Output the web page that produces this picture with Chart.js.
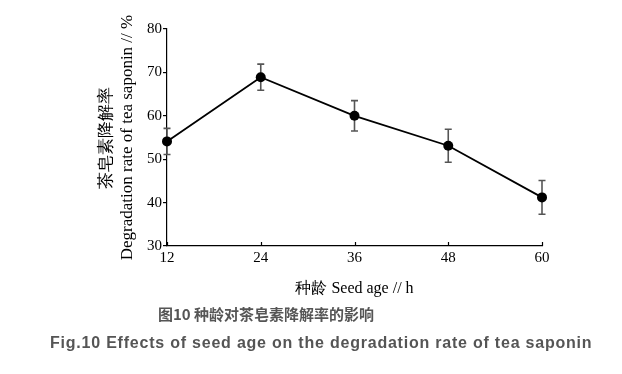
<!DOCTYPE html>
<html>
<head>
<meta charset="utf-8">
<script src="https://cdn.jsdelivr.net/npm/chart.js@4.4.0/dist/chart.umd.min.js"></script>
<style>
    body { margin: 0; background: #fff; }
    #wrap { position: relative; width: 622px; height: 374px; }
    .caption { position: absolute; color: #555; font-weight: bold; white-space: nowrap; }
    #capCn { left: 158px; top: 303px; font: bold 15px "Noto Sans CJK SC", sans-serif; }
    #capEn { left: 50px; top: 334px; font: bold 16px "Liberation Sans", Arial, sans-serif; letter-spacing: 0.78px; }
</style>
</head>
<body>
<div id="wrap">
    <canvas id="chart" width="622" height="374"></canvas>
    <div class="caption" id="capCn">图10 种龄对茶皂素降解率的影响</div>
    <div class="caption" id="capEn">Fig.10 Effects of seed age on the degradation rate of tea saponin</div>
</div>
<script>
// Data
const seedAge = [12, 24, 36, 48, 60];
const degradationRate = [54.1, 68.9, 60.0, 53.1, 41.2];
const errorValues = [3.0, 3.0, 3.5, 3.8, 3.9];
const yTicks = [30, 40, 50, 60, 70, 80];

const serif = '"Liberation Serif", "Times New Roman", serif';

// Error bars drawn under the markers
const errorBarPlugin = {
    id: 'errorBars',
    beforeDatasetsDraw(chart) {
        const ctx = chart.ctx;
        const xs = chart.scales.x;
        const ys = chart.scales.y;
        ctx.save();
        ctx.strokeStyle = '#555';
        ctx.lineWidth = 1.6;
        seedAge.forEach((age, i) => {
            const x = xs.getPixelForValue(age);
            const yTop = ys.getPixelForValue(degradationRate[i] + errorValues[i]);
            const yBot = ys.getPixelForValue(degradationRate[i] - errorValues[i]);
            ctx.beginPath();
            ctx.moveTo(x, yTop);
            ctx.lineTo(x, yBot);
            ctx.moveTo(x - 3.5, yTop);
            ctx.lineTo(x + 3.5, yTop);
            ctx.moveTo(x - 3.5, yBot);
            ctx.lineTo(x + 3.5, yBot);
            ctx.stroke();
        });
        ctx.restore();
    }
};

// x-axis tick marks point up into the plot
const innerTicksPlugin = {
    id: 'innerTicks',
    afterDraw(chart) {
        const ctx = chart.ctx;
        const xs = chart.scales.x;
        const bottom = chart.chartArea.bottom;
        ctx.save();
        ctx.strokeStyle = '#000';
        ctx.lineWidth = 1.2;
        xs.ticks.forEach(t => {
            const x = Math.round(xs.getPixelForValue(t.value)) + 0.5;
            ctx.beginPath();
            ctx.moveTo(x, bottom);
            ctx.lineTo(x, bottom - 4);
            ctx.stroke();
        });
        ctx.restore();
    }
};

const ctx = document.getElementById('chart').getContext('2d');
new Chart(ctx, {
    type: 'line',
    data: {
        datasets: [{
            data: seedAge.map((a, i) => ({ x: a, y: degradationRate[i] })),
            borderColor: '#000',
            borderWidth: 1.8,
            backgroundColor: '#000',
            pointRadius: 5,
            pointBackgroundColor: '#000',
            pointBorderWidth: 0,
            tension: 0,
            clip: false
        }]
    },
    options: {
        responsive: false,
        animation: false,
        layout: { padding: { left: 96, right: 80, top: 29, bottom: 76 } },
        plugins: { legend: { display: false }, tooltip: { enabled: false } },
        scales: {
            x: {
                type: 'linear',
                min: 12,
                max: 60,
                afterFit: s => { s.height = 52; },
                afterBuildTicks: s => { s.ticks = seedAge.map(v => ({ value: v })); },
                grid: { display: true, drawOnChartArea: false, drawTicks: false },
                border: { color: '#000', width: 1.2 },
                ticks: { color: '#000', font: { family: serif, size: 15 }, padding: 3 },
                title: {
                    display: true,
                    text: '种龄 Seed age // h',
                    color: '#000',
                    font: { family: serif, size: 16 },
                    padding: { top: 0, bottom: 0 }
                }
            },
            y: {
                min: 30,
                max: 80,
                afterFit: s => { s.width = 71; },
                afterBuildTicks: s => { s.ticks = yTicks.map(v => ({ value: v })); },
                grid: { drawOnChartArea: false, tickLength: 4, color: '#000', lineWidth: 1.2 },
                border: { color: '#000', width: 1.2 },
                ticks: { color: '#000', font: { family: serif, size: 15 }, padding: 1 },
                title: {
                    display: true,
                    text: ['茶皂素降解率', 'Degradation rate of tea saponin // %'],
                    color: '#000',
                    font: { family: serif, size: 17, lineHeight: 1.25 },
                    padding: { top: 0, bottom: 0 }
                }
            }
        }
    },
    plugins: [errorBarPlugin, innerTicksPlugin]
});
</script>
</body>
</html>
